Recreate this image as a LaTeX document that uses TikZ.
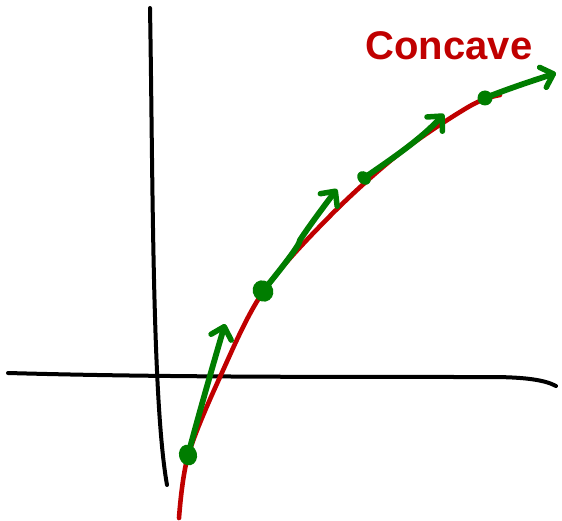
\documentclass[tikz,border=0pt]{standalone}
\usepackage{fontspec}
\setmainfont{Liberation Sans}
\usetikzlibrary{arrows.meta,shapes.geometric}
\definecolor{penred}{RGB}{192,0,0}
\definecolor{pengreen}{RGB}{0,125,0}
\tikzset{
  axisline/.style={draw=black,line width=4pt,line cap=round,line join=round},
  curveline/.style={draw=penred,line width=4.6pt,line cap=round},
  tangent/.style={draw=pengreen,line width=5.8pt,line cap=round,line join=round,
    -{Straight Barb[length=11pt,width=21pt,line width=5.5pt,round]}},
  pt/.style={fill=pengreen,draw=none,ellipse,inner sep=0pt},
  label/.style={text=penred,font=\bfseries\fontsize{40}{40}\selectfont}
}
\begin{document}
\begin{tikzpicture}[x=1pt,y=-1pt]
\useasboundingbox (0,0) rectangle (562,521);
% axes
\draw[axisline] (150,8) .. controls (153,180) and (152,400) .. (167,485);
\draw[axisline] (8,373) .. controls (150,377) and (300,377) .. (490,377)
  .. controls (525,377) and (545,380) .. (556,386);
% red curve
\draw[curveline] plot[smooth,tension=0.55] coordinates {
  (179,518) (188,456) (220,377) (263,292) (330,216) (400,153) (470,106) (500,95)};
% points
\node[pt,minimum width=18pt,minimum height=21pt,rotate=15] (p1) at (188,455) {};
\node[pt,minimum width=20pt,minimum height=22pt,rotate=35] (p2) at (263,291) {};
\node[pt,minimum width=12pt,minimum height=15pt,rotate=45] (p3) at (364,178) {};
\node[pt,minimum width=15pt,minimum height=15pt] (p4) at (485,98) {};
\coordinate (t1) at (225,324);
\coordinate (t2) at (337,189);
\coordinate (t3) at (444,114);
\coordinate (t4) at (556,73);
% tangents
\draw[tangent] (p1.center) .. controls (200,410) and (213,365) .. (t1);
\draw[tangent] (p2.center) .. controls (280,270) and (300,245) .. (300,240)
  .. controls (312,222) and (325,205) .. (t2);
\draw[tangent] (p3.center) .. controls (390,160) and (420,140) .. (t3);
\draw[tangent] (p4.center) .. controls (510,88) and (535,80) .. (t4);
% label
\node[label] (lab) at (449,46) {Concave};
\end{tikzpicture}
\end{document}
